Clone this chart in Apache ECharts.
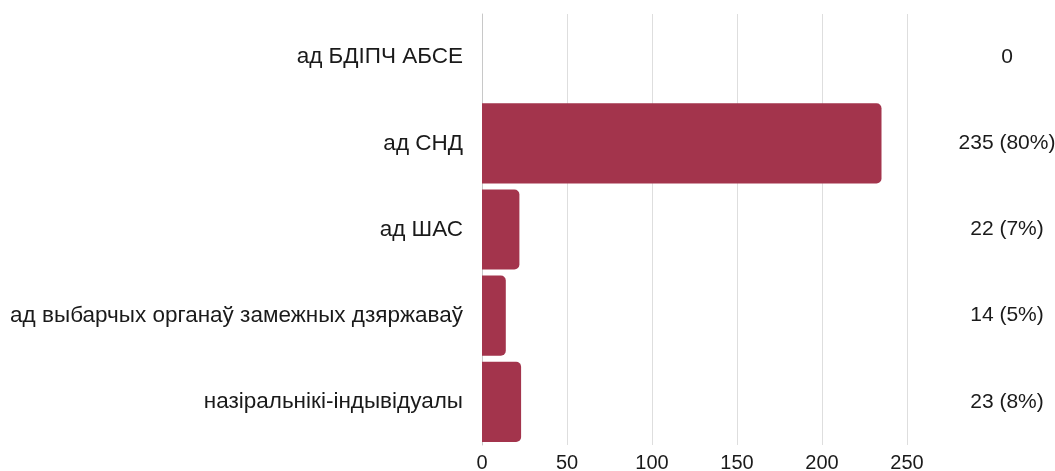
<!DOCTYPE html>
<html>
<head>
<meta charset="utf-8">
<script src="https://cdn.jsdelivr.net/npm/echarts@6/dist/echarts.min.js"></script>
<style>
html,body{margin:0;padding:0;background:#fff;}
#chart{width:1055px;height:471px;}
</style>
</head>
<body>
<div id="chart"></div>
<script>
const categories = [
  'ад БДІПЧ АБСЕ',
  'ад СНД',
  'ад ШАС',
  'ад выбарчых органаў замежных дзяржаваў',
  'назіральнікі-індывідуалы'
];
const values = [0, 235, 22, 14, 23];
const percents = [null, 80, 7, 5, 8];
const xTicks = [0, 50, 100, 150, 200, 250];

const rightLabels = values.map((v, i) => percents[i] === null ? String(v) : v + ' (' + percents[i] + '%)');
const FONT = '"Liberation Sans", Arial, Helvetica, sans-serif';

const chart = echarts.init(document.getElementById('chart'));
chart.setOption({
  animation: false,
  backgroundColor: '#ffffff',
  grid: { left: 482, right: 148, top: 14, bottom: 26, containLabel: false, outerBoundsMode: 'none' },
  xAxis: {
    type: 'value',
    min: xTicks[0],
    max: xTicks[xTicks.length - 1],
    interval: xTicks[1] - xTicks[0],
    axisLine: { show: false },
    axisTick: { show: false },
    splitLine: { show: true, lineStyle: { color: '#dedede', width: 1 } },
    axisLabel: { fontSize: 20, color: '#1a1a1a', fontFamily: FONT, margin: 8 }
  },
  yAxis: [
    {
      type: 'category',
      data: categories,
      inverse: true,
      axisLine: { show: true, lineStyle: { color: '#c8c8c8', width: 1 } },
      axisTick: { show: false },
      axisLabel: { fontSize: 22.5, color: '#1a1a1a', fontFamily: FONT, margin: 19 }
    },
    {
      type: 'category',
      data: rightLabels,
      inverse: true,
      position: 'right',
      axisLine: { show: false },
      axisTick: { show: false },
      axisLabel: { fontSize: 21, color: '#1a1a1a', fontFamily: FONT, margin: 100, align: 'center' }
    }
  ],
  series: [
    {
      type: 'bar',
      data: values,
      yAxisIndex: 0,
      barCategoryGap: '7%',
      itemStyle: { color: '#a3344c', borderRadius: [0, 5, 5, 0] }
    }
  ]
});
</script>
</body>
</html>
